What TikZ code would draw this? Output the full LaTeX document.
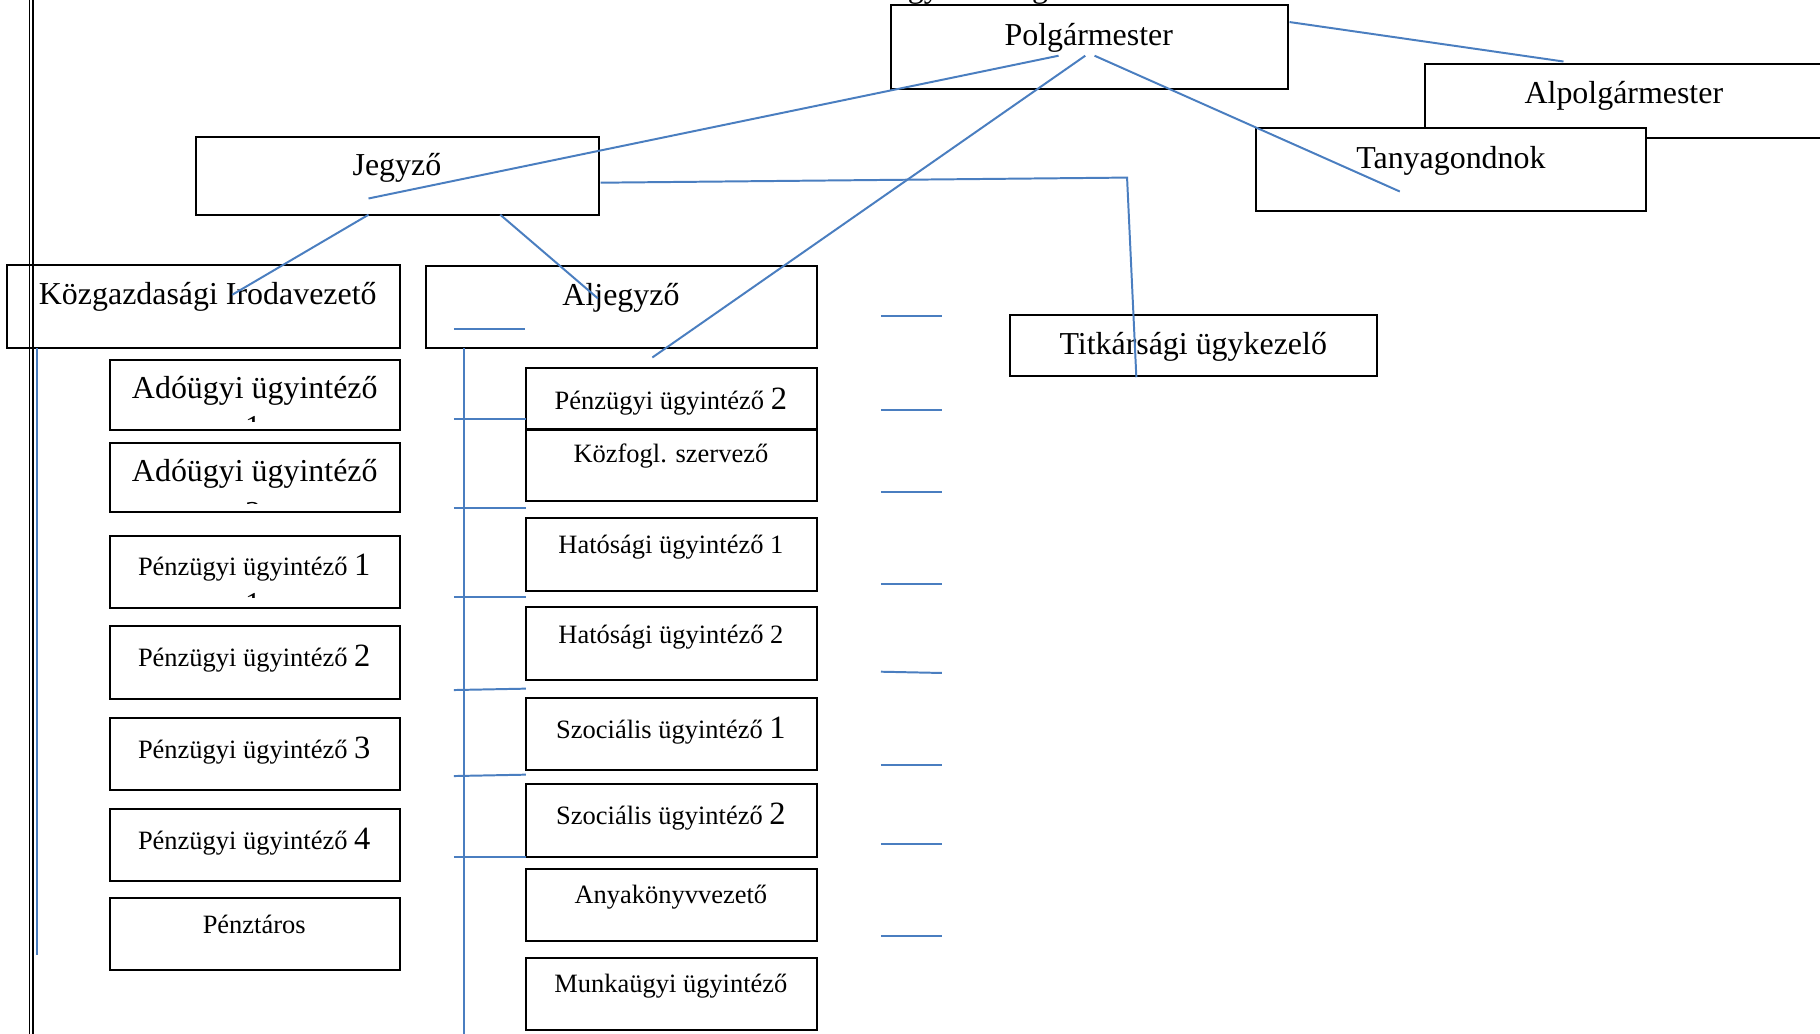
\documentclass[tikz,border=0pt]{standalone}
\usepackage{fontspec}
\setmainfont{Liberation Serif}
\definecolor{lineblue}{HTML}{4A7EC0}
\newcommand{\obx}[5]{\node[obox, minimum width={(#4)-(#2)}, minimum height={(#5)-(#3)}] (#1) at ({((#2)+(#4))/2},{((#3)+(#5))/2}) {};}
\newcommand{\bigdigit}[1]{{\fontsize{28}{33}\selectfont #1}}
\begin{document}
\begin{tikzpicture}[x=1pt,y=-1pt,
  obox/.style={draw=black, line width=1.8pt, fill=white, inner sep=0pt, outer sep=0pt},
  conn/.style={draw=lineblue, line width=1.7pt},
  frame/.style={draw=black, line width=1.1pt},
  big/.style={font=\fontsize{27.5}{33}\selectfont, anchor=base, inner sep=0pt},
  small/.style={font=\fontsize{22.8}{27}\selectfont, anchor=base, inner sep=0pt}]
\useasboundingbox (0,0) rectangle (1568,890);
\fill[white] (0,0) rectangle (1568,890);

% boxes
\obx{polg}{768}{4}{1110}{77}
\obx{alp}{1228}{55}{1574}{119}
\obx{tany}{1082}{110}{1418}{182}
\obx{jegy}{169}{118}{516}{185}
\obx{kozg}{6}{228}{345}{300}
\obx{alj}{367}{229}{703.5}{300}
\obx{titk}{870}{271}{1186}{324}
\obx{ado1}{95}{310}{345}{370.5}
\obx{ado2}{95}{382}{345}{441}
\obx{pl1}{95}{462}{345}{524}
\obx{pl2}{95}{539.5}{345}{602}
\obx{pl3}{95}{618.5}{345}{681}
\obx{pl4}{95}{697}{345}{759}
\obx{penzt}{95}{774}{345}{836}
\obx{pr2}{453}{317}{703.5}{370}
\obx{kozf}{453}{370.5}{703.5}{432}
\obx{hat1}{453}{446.5}{703.5}{509}
\obx{hat2}{453}{523}{703.5}{586}
\obx{szoc1}{453}{601.5}{703.5}{663.5}
\obx{szoc2}{453}{675.5}{703.5}{738}
\obx{anya}{453}{748.5}{703.5}{811}
\obx{munka}{453}{825}{703.5}{887.5}

% texts
\node[big, anchor=base west] (frag1) at (782,-2.5) {gy};
\node[big, anchor=base west] (frag2) at (889,-2.5) {g};
\node[big] (tpolg) at (938,38.8) {Polgármester};
\node[big] (talp) at (1399,89) {Alpolgármester};
\node[big] (ttany) at (1250,145) {Tanyagondnok};
\node[big] (ttitk) at (1028,305) {Titkársági ügykezelő};
\node[big] (tjegy) at (342,151.6) {Jegyző};
\node[big] (tkozg) at (179,262) {Közgazdasági Irodavezető};
\node[big] (talj) at (535,262.8) {Aljegyző};
\node[big] (tado1) at (219.5,343) {Adóügyi ügyintéző};
\node[big] (tado2) at (219.5,415) {Adóügyi ügyintéző};
\begin{scope}
  \clip (200,340) rectangle (240,363);
  \node[big] (cut1) at (218,376.6) {1};
\end{scope}
\begin{scope}
  \clip (200,420) rectangle (240,434);
  \node[big] (cut2) at (218,450.6) {2};
\end{scope}
\begin{scope}
  \clip (200,500) rectangle (240,514.6);
  \node[big] (cut3) at (218,529.2) {1};
\end{scope}
\node[small] (tpl1) at (219,496) {Pénzügyi ügyintéző \bigdigit{1}};
\node[small] (tpl2) at (219,574.4) {Pénzügyi ügyintéző \bigdigit{2}};
\node[small] (tpl3) at (219,653.3) {Pénzügyi ügyintéző \bigdigit{3}};
\node[small] (tpl4) at (219,731.7) {Pénzügyi ügyintéző \bigdigit{4}};
\node[small] (tpenzt) at (219,804) {Pénztáros};
\node[small] (tpr2) at (578,352.5) {Pénzügyi ügyintéző \bigdigit{2}};
\node[small] (tkozf) at (578,398.5) {Közfogl. szervező};
\node[small] (thsg1) at (578,476.7) {Hatósági ügyintéző 1};
\node[small] (thsg2) at (578,554.3) {Hatósági ügyintéző 2};
\node[small] (tszoc1) at (578,636) {Szociális ügyintéző \bigdigit{1}};
\node[small] (tszoc2) at (578,710) {Szociális ügyintéző \bigdigit{2}};
\node[small] (tanya) at (578,778.8) {Anyakönyvvezető};
\node[small] (tmunka) at (578,855.2) {Munkaügyi ügyintéző};

% connector end points
\coordinate (pJ) at (912,48);
\coordinate (jI) at (317.5,171);
\coordinate (jB1) at (317.5,185);
\coordinate (kI) at (200,254);
\coordinate (jB2) at (431,185);
\coordinate (aI) at (515,257);
\coordinate (jR) at (517.5,157.4);
\coordinate (tBend) at (971,153);
\coordinate (tI) at (979,325);
\coordinate (pP) at (935,48);
\coordinate (prI) at (562,308);
\coordinate (pT) at (943,48);
\coordinate (tyI) at (1206,165);
\coordinate (pR) at (1111,19);
\coordinate (alT) at (1347,53);
\coordinate (kzTop) at (31.5,300);
\coordinate (kzBot) at (31.5,823);
\coordinate (ajA) at (391,283.5);
\coordinate (ajB) at (452.5,283.5);
\coordinate (ajTop) at (400,300);
\coordinate (ajBot) at (400,892);

% connectors
\draw[conn] (pJ) -- (jI);
\draw[conn] (jB1) -- (kI);
\draw[conn] (jB2) -- (aI);
\draw[conn] (jR) -- (tBend) -- (tI);
\draw[conn] (pP) -- (prI);
\draw[conn] (pT) -- (tyI);
\draw[conn] (pR) -- (alT);
\draw[conn] (kzTop) -- (kzBot);
\draw[conn] (ajA) -- (ajB);
\draw[conn] (ajTop) -- (ajBot);
\foreach \ya/\yb [count=\i] in {361/361, 438/438, 514/514, 594.5/593.3, 668.6/667.4, 738.6/738.6} {
  \coordinate (hl\i) at (391,\ya);
  \coordinate (hr\i) at (453,\yb);
  \draw[conn] (hl\i) -- (hr\i);
}
\foreach \ya/\yb [count=\i] in {272.3/272.3, 353.5/353.5, 424/424, 503/503, 578.7/579.8, 659.4/659.4, 727/727, 806/806} {
  \coordinate (sl\i) at (759,\ya);
  \coordinate (sr\i) at (811.5,\yb);
  \draw[conn] (sl\i) -- (sr\i);
}

% double page rule
\coordinate (dl1) at (25.5,-2);
\coordinate (dl2) at (25.5,892);
\coordinate (dr1) at (28.5,-2);
\coordinate (dr2) at (28.5,892);
\draw[frame] (dl1) -- (dl2);
\draw[frame] (dr1) -- (dr2);
\end{tikzpicture}
\end{document}
